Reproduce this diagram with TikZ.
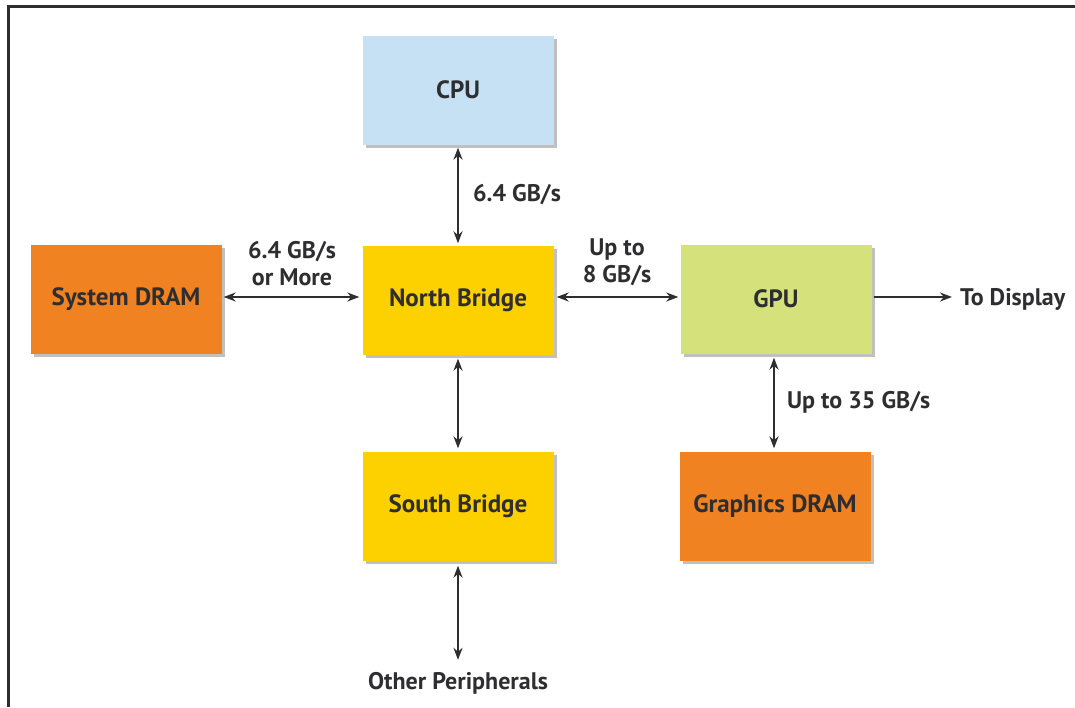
\documentclass[tikz,border=0pt]{standalone}
\usepackage{fontspec}
\setmainfont{PT Sans}
\usetikzlibrary{arrows.meta,shadows}
\definecolor{cpublue}{HTML}{C6E1F3}
\definecolor{bridge}{HTML}{FDD000}
\definecolor{dram}{HTML}{F08222}
\definecolor{gpugreen}{HTML}{D5E27C}
\definecolor{ink}{HTML}{2E2E30}
\tikzset{
  blk/.style={minimum width=191pt, minimum height=109pt, inner sep=0pt,
    font=\fontsize{25}{28}\selectfont\bfseries, text=ink,
    drop shadow={shadow xshift=3pt, shadow yshift=-3pt, fill=gray!70, opacity=0.7}},
  lbl/.style={font=\fontsize{24}{27}\selectfont\bfseries, text=ink, inner sep=0pt, align=center},
  conn/.style={draw=ink, line width=2pt, {Stealth[length=12pt,width=9pt]}-{Stealth[length=12pt,width=9pt]}},
  oneway/.style={draw=ink, line width=2pt, -{Stealth[length=12pt,width=9pt]}}
}
\begin{document}
\begin{tikzpicture}[x=1pt,y=-1pt]
\useasboundingbox (0,0) rectangle (1075,707);
\fill[white] (0,0) rectangle (1075,707);
\draw[ink, line width=3pt] (8,707) -- (8,6) -- (1075,6);
\node[blk, fill=cpublue] (cpu) at (458,90) {CPU};
\node[blk, fill=bridge] (nb) at (458,300) {North Bridge};
\node[blk, fill=dram] (sdram) at (126,299) {System DRAM};
\node[blk, fill=gpugreen] (gpu) at (776,299) {GPU};
\node[blk, fill=bridge] (sb) at (458,506) {South Bridge};
\node[blk, fill=dram] (gdram) at (775,506) {Graphics DRAM};
\node[lbl, anchor=west] (disp) at (960,299) {To Display};
\node[lbl] (other) at (458,683) {Other Peripherals};
\draw[conn, shorten <=3pt, shorten >=2pt] (cpu.south) -- (nb.north)
  node[lbl, midway, right=14pt] (l1) {6.4 GB/s};
\draw[conn, shorten <=2pt, shorten >=3pt] (sdram.east|-0,297) -- (nb.west|-0,297)
  node[lbl, midway, above=10pt] (l2) {6.4 GB/s\\or More};
\draw[conn, shorten <=3pt, shorten >=2pt] (nb.east|-0,297) -- (gpu.west|-0,297)
  node[lbl, midway, above=10pt] (l3) {Up to\\8 GB/s};
\draw[oneway, shorten <=2pt, shorten >=8pt] (gpu.east|-0,297) -- (disp.west|-0,297);
\draw[conn, shorten <=4pt, shorten >=3pt] (gpu.south-|774,0) -- (gdram.north-|774,0)
  node[lbl, midway, right=12pt] (l4) {Up to 35 GB/s};
\draw[conn, shorten <=4pt, shorten >=3pt] (nb.south) -- (sb.north);
\draw[conn, shorten <=5pt, shorten >=12pt] (sb.south) -- (other.north);
\end{tikzpicture}
\end{document}
